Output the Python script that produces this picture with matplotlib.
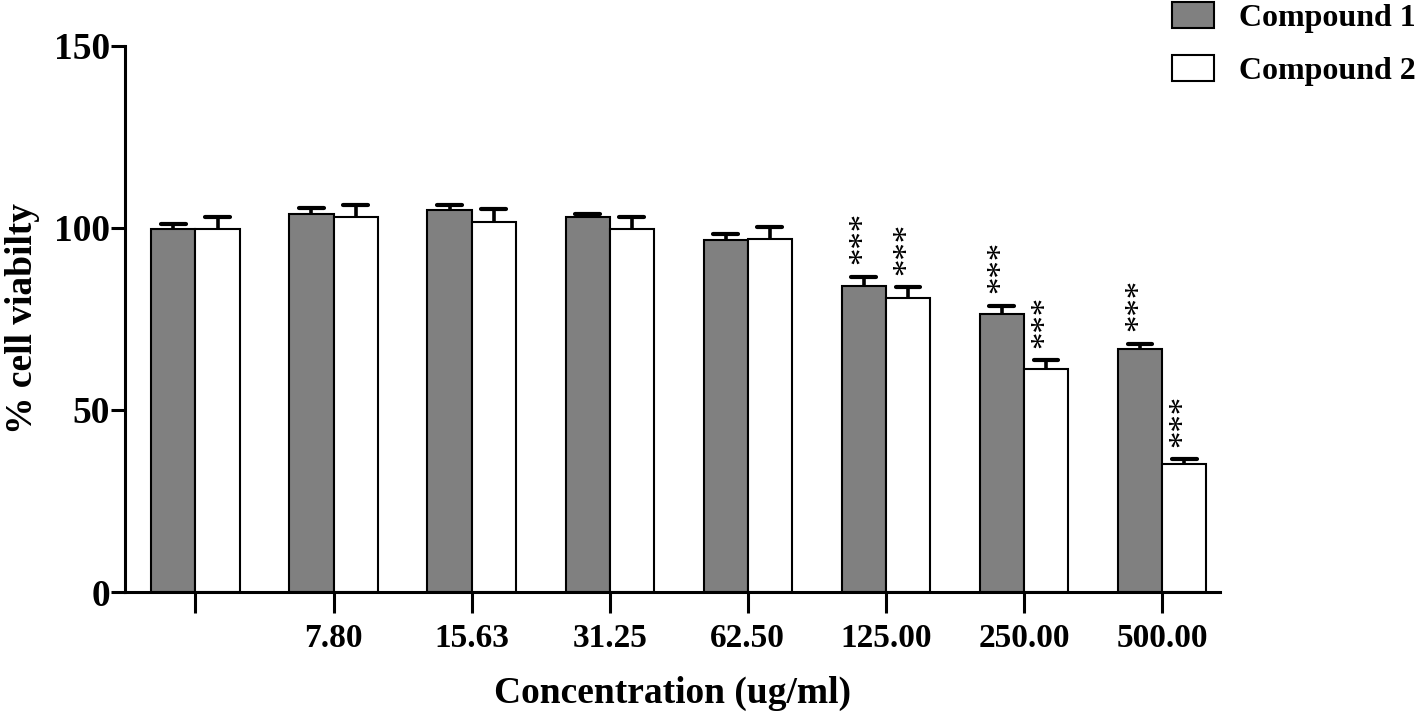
import matplotlib
matplotlib.use("Agg")
import matplotlib.pyplot as plt
import numpy as np
from matplotlib.patches import Patch

plt.rcParams['font.family'] = ['Liberation Serif', 'DejaVu Serif']

labels = ['', '7.80', '15.63', '31.25', '62.50', '125.00', '250.00', '500.00']
comp1 = [99.7, 103.8, 104.9, 103.0, 96.7, 84.1, 76.5, 66.7]
comp1_err = [1.4, 1.7, 1.4, 0.8, 1.7, 2.5, 2.2, 1.5]
comp2 = [99.7, 102.9, 101.7, 99.7, 97.0, 80.7, 61.4, 35.1]
comp2_err = [3.3, 3.3, 3.4, 3.3, 3.3, 3.1, 2.2, 1.4]
sig1 = ['', '', '', '', '', '***', '***', '***']
sig2 = ['', '', '', '', '', '***', '***', '***']

fig = plt.figure(figsize=(14.16, 7.13), dpi=100)
ax = fig.add_axes([0.0883, 0.1697, 0.7733, 0.7658])

x = np.arange(len(labels))
w = 0.32
cap = 0.09
ax.bar(x - w/2, comp1, w, color='#808080', edgecolor='black', linewidth=1.5, zorder=2)
ax.bar(x + w/2, comp2, w, color='white', edgecolor='black', linewidth=1.5, zorder=2)
for xs, v, e in [(x - w/2, np.array(comp1), np.array(comp1_err)),
                 (x + w/2, np.array(comp2), np.array(comp2_err))]:
    ax.vlines(xs, v, v + e, color='black', linewidth=2.6, zorder=3)
    ax.hlines(v + e, xs - cap, xs + cap, color='black', linewidth=3.0, zorder=3,
              capstyle='round')

for i in range(len(labels)):
    if sig1[i]:
        ax.text(x[i] - w/2, comp1[i] + comp1_err[i] + 3.4, sig1[i], rotation=90,
                ha='center', va='bottom', fontsize=25, family='Liberation Serif')
    if sig2[i]:
        ax.text(x[i] + w/2, comp2[i] + comp2_err[i] + 3.4, sig2[i], rotation=90,
                ha='center', va='bottom', fontsize=25, family='Liberation Serif')

ax.set_xlim(-0.51, 7.42)
ax.set_ylim(0, 150)
ax.set_yticks([0, 50, 100, 150])
ax.set_xticks(x)
ax.set_xticklabels(labels, fontsize=24, fontweight='bold')
for t in ax.get_yticklabels():
    t.set_fontsize(27)
    t.set_fontweight('bold')
for s in ['top', 'right']:
    ax.spines[s].set_visible(False)
for s in ['left', 'bottom']:
    ax.spines[s].set_linewidth(2.2)
ax.tick_params(axis='y', length=10, width=2.2, pad=1)
ax.tick_params(axis='x', length=15, width=2.2, pad=7)

ax.set_ylabel('% cell viabilty', fontsize=27, fontweight='bold', labelpad=10)
ax.set_xlabel('Concentration (ug/ml)', fontsize=27, fontweight='bold', labelpad=16)

handles = [Patch(facecolor='#808080', edgecolor='black', linewidth=1.5, label='Compound 1'),
           Patch(facecolor='white', edgecolor='black', linewidth=1.5, label='Compound 2')]
fig.legend(handles=handles, loc='upper right', bbox_to_anchor=(1.0, 0.997), frameon=False,
           prop={'family': 'Liberation Serif', 'weight': 'bold', 'size': 23},
           handlelength=1.3, handleheight=0.85, handletextpad=0.8, labelspacing=0.7,
           borderaxespad=0.0, borderpad=0.0)

fig.savefig('out.png', dpi=100)
